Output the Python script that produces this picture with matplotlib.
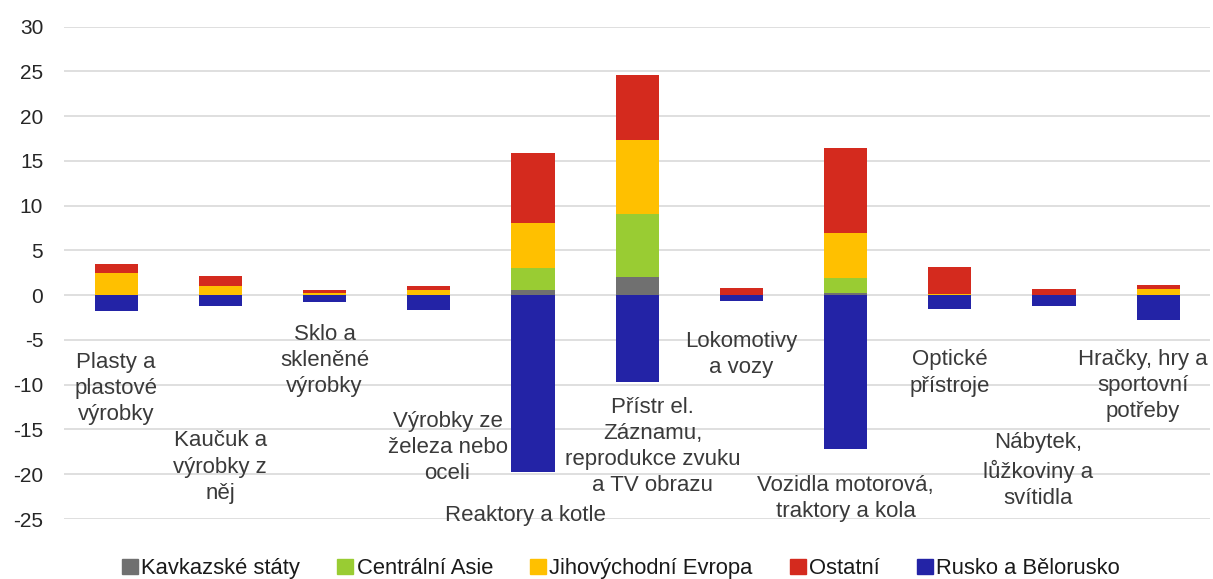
import numpy as np
import matplotlib.pyplot as plt
from matplotlib.patches import Patch

plt.rcParams['font.family'] = ['Liberation Sans', 'DejaVu Sans']
plt.rcParams['axes.unicode_minus'] = False

# data
kategorie = ['Plasty a\nplastové\nvýrobky', 'Kaučuk a\nvýrobky z\nněj', 'Sklo a\nskleněné\nvýrobky',
             'Výrobky ze\nželeza nebo\noceli', 'Reaktory a kotle',
             'Přístr el.\nZáznamu,\nreprodukce zvuku\na TV obrazu', 'Lokomotivy\na vozy',
             'Vozidla motorová,\ntraktory a kola', 'Optické\npřístroje',
             'Nábytek,\nlůžkoviny a\nsvítidla', 'Hračky, hry a\nsportovní\npotřeby']
kavkaz = [0, 0, 0, 0, 0.6, 2.0, 0, 0.3, 0, 0, 0]
asie = [0, 0, 0, 0, 2.4, 7.1, 0, 1.6, 0, 0, 0]
jve = [2.5, 1.0, 0.25, 0.55, 5.1, 8.2, 0, 5.0, 0.1, 0.05, 0.65]
ostatni = [1.0, 1.2, 0.3, 0.45, 7.8, 7.3, 0.75, 9.5, 3.1, 0.6, 0.5]
rusko = [-1.8, -1.2, -0.75, -1.6, -19.8, -9.7, -0.7, -17.2, -1.5, -1.25, -2.8]

# label placement (x, y in data units)
lbl_x = [0, 1, 2, 3.18, 3.93, 5.15, 6, 7, 8, 8.85, 9.85]
lbl_y = [-10.4, -19.2, -7.3, -17.0, -24.6, -16.9, -6.6, -22.7, -8.7, -19.6, -10.1]

barvy = {'kav': '#707070', 'asie': '#99CC33', 'jve': '#FFC000', 'ost': '#D42A1E', 'rus': '#2323A6'}

fig = plt.figure(figsize=(12.13, 5.79), dpi=100)
ax = fig.add_axes([0.0528, 0.1036, 0.945, 0.8504])

x = np.arange(len(kategorie))
w = 0.415
bottom = np.zeros(len(x))
for vals, c in [(kavkaz, barvy['kav']), (asie, barvy['asie']), (jve, barvy['jve']), (ostatni, barvy['ost'])]:
    ax.bar(x, vals, w, bottom=bottom, color=c, zorder=3)
    bottom += np.array(vals)
ax.bar(x, rusko, w, color=barvy['rus'], zorder=3)

for i, t in enumerate(kategorie):
    ax.text(lbl_x[i], lbl_y[i], t, ha='center', va='center', fontsize=16, color='#3a3a3a',
            linespacing=1.33, zorder=4)

ax.set_xlim(-0.5, len(x) - 0.5)
ax.set_ylim(-25, 30)
ax.set_yticks(np.arange(-25, 31, 5))
ax.set_xticks([])
ax.yaxis.grid(True, color='#d9d9d9', lw=1.2, zorder=0)
for s in ax.spines.values():
    s.set_visible(False)
ax.tick_params(axis='y', length=0, labelsize=15, labelcolor='#262626', pad=15)

handles = [Patch(color=barvy['kav'], label='Kavkazské státy'),
           Patch(color=barvy['asie'], label='Centrální Asie'),
           Patch(color=barvy['jve'], label='Jihovýchodní Evropa'),
           Patch(color=barvy['ost'], label='Ostatní'),
           Patch(color=barvy['rus'], label='Rusko a Bělorusko')]
fig.legend(handles=handles, loc='center', bbox_to_anchor=(0.512, 0.018), ncol=5, frameon=False,
           fontsize=15.8, handlelength=0.72, handleheight=0.72, handletextpad=0.15, columnspacing=1.7,
           labelcolor='#1a1a1a')

fig.savefig('out.png', dpi=100)
